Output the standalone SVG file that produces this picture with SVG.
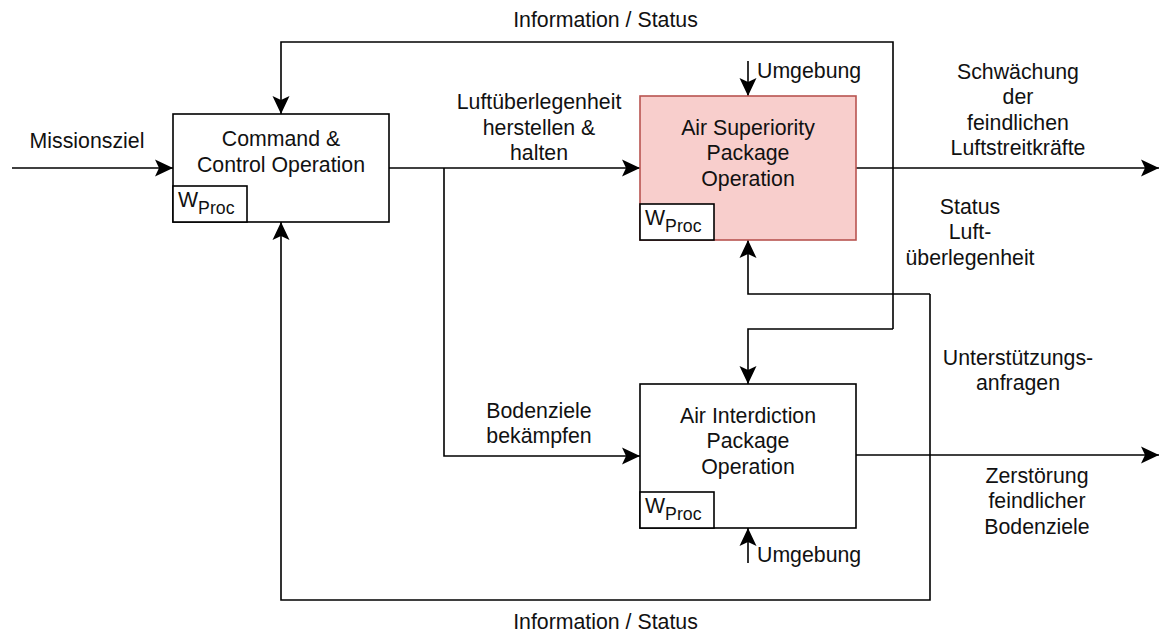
<svg xmlns="http://www.w3.org/2000/svg" width="1159" height="632" viewBox="0 0 1159 632">
  <defs>
    <style>
      text { font-family: "Liberation Sans", Arial, sans-serif; font-size: 21.3px; fill: #111; }
      .c { text-anchor: middle; }
      .box { fill: #ffffff; stroke: #000; stroke-width: 1.6; }
      .hl { fill: #f8cecc; stroke: #b85450; stroke-width: 1.6; }
      .wp { fill: #ffffff; stroke: #000; stroke-width: 1.6; }
      .sub { font-size: 17.7px; }
      .edge { fill: none; stroke: #000; stroke-width: 1.6; }
      .arr { marker-end: url(#ah); }
    </style>
    <marker id="ah" markerUnits="userSpaceOnUse" markerWidth="18" markerHeight="17" refX="18" refY="8.5" orient="auto" overflow="visible">
      <path d="M0,0 L18,8.5 L0,17 L4,8.5 Z" fill="#000"/>
    </marker>
  </defs>
  <rect width="1159" height="632" fill="#ffffff"/>

  <g id="connectors">
    <path class="edge arr" d="M12,168 H173"/>
    <path class="edge arr" d="M389,168 H640"/>
    <path class="edge arr" d="M444,168 V456 H640"/>
    <path class="edge arr" d="M856,168 H1159"/>
    <path class="edge arr" d="M893,329 V42 H281 V114"/>
    <path class="edge arr" d="M893,329 H748 V384"/>
    <path class="edge arr" d="M930,294 V600 H281 V222"/>
    <path class="edge arr" d="M930,294 H748 V240"/>
    <path class="edge arr" d="M856,455 H1159"/>
    <path class="edge arr" d="M748,61 V96"/>
    <path class="edge arr" d="M748,563 V528"/>
  </g>

  <g id="node-cc">
    <rect class="box" x="173" y="114" width="216" height="108"/>
    <text class="c" x="281" y="146">Command &amp;</text>
    <text class="c" x="281" y="171.5">Control Operation</text>
    <rect class="wp" x="173" y="186" width="74" height="36"/>
    <text x="178" y="207">W<tspan class="sub" dy="7">Proc</tspan></text>
  </g>

  <g id="node-asp">
    <rect class="hl" x="640" y="96" width="216" height="144"/>
    <text class="c" x="748" y="134.5">Air Superiority</text>
    <text class="c" x="748" y="160">Package</text>
    <text class="c" x="748" y="185.5">Operation</text>
    <rect class="wp" x="640" y="204" width="74" height="36"/>
    <text x="645" y="225">W<tspan class="sub" dy="7">Proc</tspan></text>
  </g>

  <g id="node-aip">
    <rect class="box" x="640" y="384" width="216" height="144"/>
    <text class="c" x="748" y="422.5">Air Interdiction</text>
    <text class="c" x="748" y="448">Package</text>
    <text class="c" x="748" y="473.5">Operation</text>
    <rect class="wp" x="640" y="492" width="74" height="36"/>
    <text x="645" y="513">W<tspan class="sub" dy="7">Proc</tspan></text>
  </g>

  <g id="labels">
    <text class="c" x="605.5" y="26.5">Information / Status</text>
    <text class="c" x="605.5" y="629">Information / Status</text>
    <text class="c" x="87" y="147.5">Missionsziel</text>
    <text class="c" x="539" y="109">Luftüberlegenheit</text>
    <text class="c" x="539" y="134.5">herstellen &amp;</text>
    <text class="c" x="539" y="160">halten</text>
    <text class="c" x="539" y="417.5">Bodenziele</text>
    <text class="c" x="539" y="443">bekämpfen</text>
    <text x="757" y="77.5">Umgebung</text>
    <text x="757" y="562">Umgebung</text>
    <text class="c" x="1018" y="78.5">Schwächung</text>
    <text class="c" x="1018" y="104">der</text>
    <text class="c" x="1018" y="129.5">feindlichen</text>
    <text class="c" x="1018" y="155">Luftstreitkräfte</text>
    <text class="c" x="970" y="213.5">Status</text>
    <text class="c" x="970" y="239">Luft-</text>
    <text class="c" x="970" y="264.5">überlegenheit</text>
    <text class="c" x="1018" y="364.5">Unterstützungs-</text>
    <text class="c" x="1018" y="390">anfragen</text>
    <text class="c" x="1037" y="482.5">Zerstörung</text>
    <text class="c" x="1037" y="508">feindlicher</text>
    <text class="c" x="1037" y="533.5">Bodenziele</text>
  </g>
</svg>
